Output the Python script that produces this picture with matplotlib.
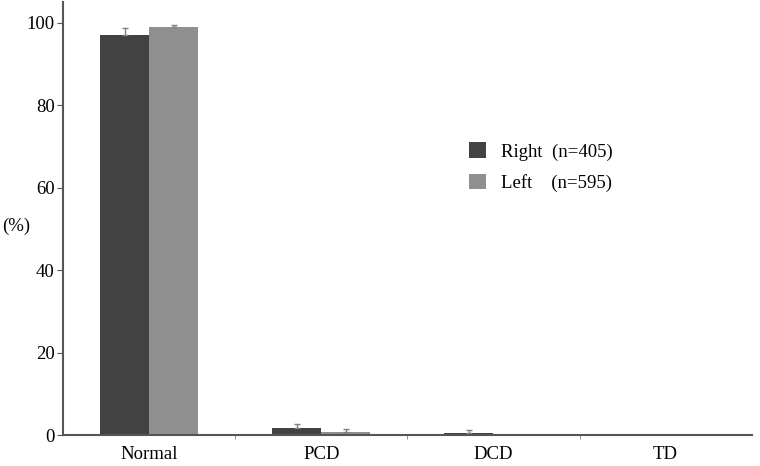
import matplotlib.pyplot as plt
import numpy as np

plt.rcParams['font.family'] = ['Liberation Serif', 'DejaVu Serif']

categories = ['Normal', 'PCD', 'DCD', 'TD']
right_vals = [97.1, 1.7, 0.5, 0.0]
right_err = [1.7, 1.0, 0.7, 0.0]
left_vals = [99.0, 0.8, 0.0, 0.0]
left_err = [0.5, 0.6, 0.0, 0.0]
labels = ['Right  (n=405)', 'Left    (n=595)']

fig = plt.figure(figsize=(7.6, 4.66), dpi=100)
ax = fig.add_axes([0.083, 0.0665, 0.906, 0.929])

x = np.arange(len(categories))
w = 0.285
ax.bar(x - w / 2, right_vals, w, color='#424242', label=labels[0])
ax.bar(x + w / 2, left_vals, w, color='#8f8f8f', label=labels[1])

# only upper error bars
for i in range(len(x)):
    if right_err[i] > 0:
        ax.errorbar(x[i] - w / 2, right_vals[i], yerr=[[0], [right_err[i]]],
                    fmt='none', ecolor='#808080', elinewidth=1, capsize=2)
    if left_err[i] > 0:
        ax.errorbar(x[i] + w / 2, left_vals[i], yerr=[[0], [left_err[i]]],
                    fmt='none', ecolor='#808080', elinewidth=1, capsize=2)

ax.set_xlim(-0.5, 3.5)
ax.set_ylim(0, 105)
ax.set_yticks([0, 20, 40, 60, 80, 100])
ax.set_xticks(x)
ax.set_xticklabels(categories)
ax.set_xticks([0.5, 1.5, 2.5], minor=True)
ax.tick_params(axis='x', which='major', length=0, pad=8, labelsize=13.5)
ax.tick_params(axis='x', which='minor', length=3, color='#808080')
ax.tick_params(axis='y', length=4, color='#555555', labelsize=13.5, pad=2)

for s in ['top', 'right']:
    ax.spines[s].set_visible(False)
for s in ['left', 'bottom']:
    ax.spines[s].set_color('#555555')
    ax.spines[s].set_linewidth(1.5)

fig.text(0.003, 0.515, '(%)', fontsize=13.5, va='center', ha='left')

ax.legend(loc='upper left', bbox_to_anchor=(0.565, 0.715), frameon=False,
          fontsize=13.5, handlelength=0.9, handleheight=0.9,
          handletextpad=0.8, labelspacing=0.7)

fig.savefig('out.png')
